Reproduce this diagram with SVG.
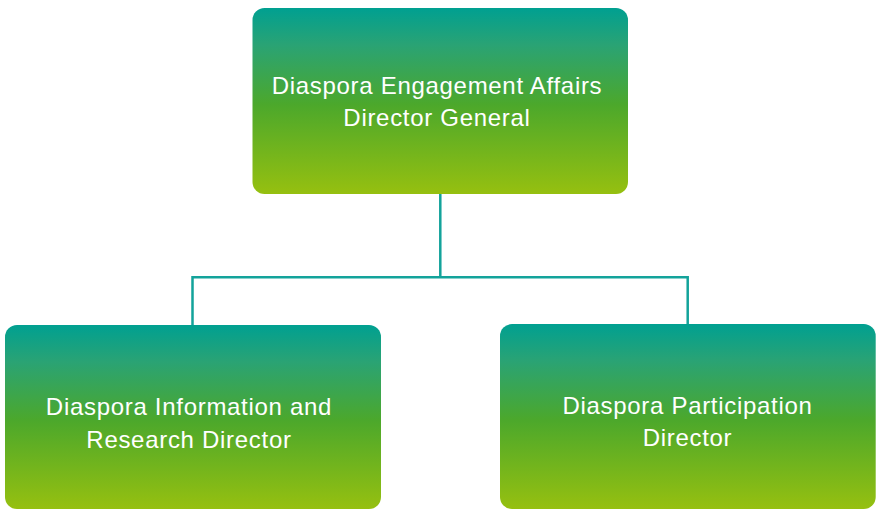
<svg xmlns="http://www.w3.org/2000/svg" width="877" height="509" viewBox="0 0 877 509">
<defs>
<linearGradient id="g" x1="0" y1="0" x2="0" y2="1">
<stop offset="0" stop-color="#00A091"/>
<stop offset="0.2" stop-color="#2AA374"/>
<stop offset="0.52" stop-color="#4CA82B"/>
<stop offset="1" stop-color="#96C010"/>
</linearGradient>
<style>
.box{fill:url(#g);}
.t{fill:#ffffff;font-family:"Liberation Sans",Arial,sans-serif;font-size:24px;letter-spacing:0.7px;text-anchor:middle;}
.c{fill:none;stroke:#13A39B;stroke-width:2.5;}
</style>
</defs>
<rect width="877" height="509" fill="#ffffff"/>
<g id="connectors">
<path class="c" d="M440.3 194 V277.3 M192.5 277.3 H687.7 M192.5 276 V325 M687.7 276 V324"/>
</g>
<g id="node-dg">
<rect class="box" x="252.5" y="8" width="375.5" height="186" rx="12" ry="12"/>
<text class="t" x="437" y="93.5">Diaspora Engagement Affairs</text>
<text class="t" x="437" y="126">Director General</text>
</g>
<g id="node-info">
<rect class="box" x="5" y="325" width="376" height="184" rx="12" ry="12"/>
<text class="t" x="189" y="415">Diaspora Information and</text>
<text class="t" x="189" y="447.5">Research Director</text>
</g>
<g id="node-part">
<rect class="box" x="500" y="324" width="375.7" height="185" rx="12" ry="12"/>
<text class="t" x="687.5" y="414.3">Diaspora Participation</text>
<text class="t" x="687.5" y="446">Director</text>
</g>
</svg>
